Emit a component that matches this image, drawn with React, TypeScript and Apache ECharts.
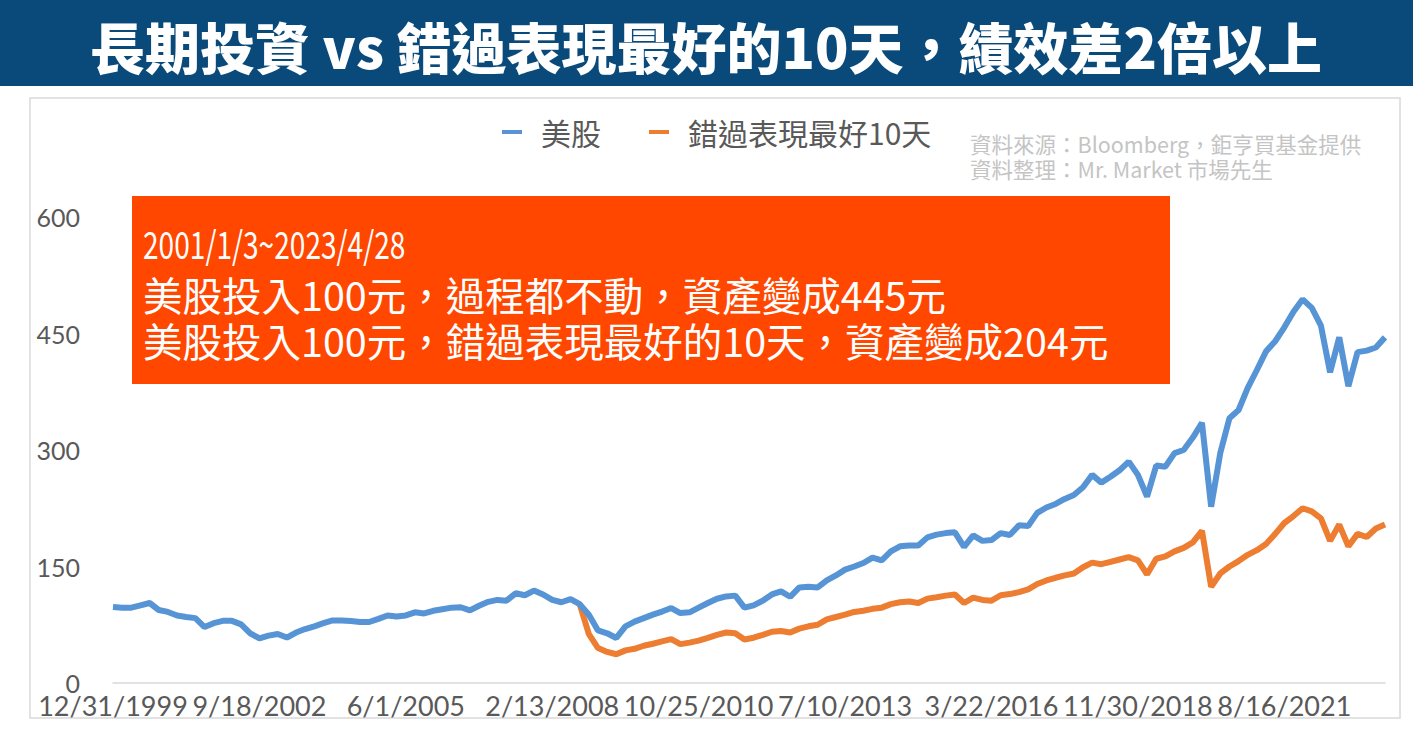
import React, { useEffect, useRef } from "react";
import * as echarts from "echarts";

// ---- Data ----
const seriesNames = ["美股", "錯過表現最好10天"];

// x axis: one point every 62 days starting 12/31/1999 (a label every 16 points = 992 days)
const startDate = "1999-12-31";
const stepDays = 62;
const labelEvery = 16;
const tickLabels = [
  "12/31/1999", "9/18/2002", "6/1/2005", "2/13/2008", "10/25/2010",
  "7/10/2013", "3/22/2016", "11/30/2018", "8/16/2021",
];

const usStocks = [
  97.8, 97, 97, 100, 103, 94, 91.5, 87, 85, 83.5,
  72, 77, 80, 80, 75.5, 64, 57.5, 61, 63, 58.5,
  65, 69.5, 73, 77, 80.5, 80.5, 79.7, 78.5, 78.5, 82.5,
  87, 85.5, 87, 91, 89.5, 93, 95, 97, 97.5, 93.5,
  99.5, 104.5, 107, 106, 115.5, 113, 119, 114, 107, 104,
  108, 101.5, 88, 67.7, 64, 58, 73, 79, 83.5, 88,
  92, 96.5, 90, 91, 97, 103, 108.5, 111.5, 112.5, 97,
  100, 106, 114, 118, 111, 123, 124, 123, 132, 138.5,
  146, 150, 154.5, 161.5, 158, 169.5, 176, 177, 177, 187.5,
  191, 193, 194, 175.2, 190, 183, 184, 193, 190.5, 203,
  202, 219, 226, 230.5, 237, 242, 252, 268, 258, 265.5,
  274, 285, 268, 240, 280, 278.5, 296, 300, 316, 335,
  227, 296, 341, 351.5, 380, 403, 427, 440, 458, 478,
  494, 483, 460, 400, 445, 382, 426, 428, 432, 445,
];

const missedBest10 = [
  null, null, null, null, null, null, null, null, null, null,
  null, null, null, null, null, null, null, null, null, null,
  null, null, null, null, null, null, null, null, null, null,
  null, null, null, null, null, null, null, null, null, null,
  null, null, null, null, null, null, null, null, null, null,
  null, 101.5, 63, 45, 40, 37, 42, 44, 48, 50.5,
  53.5, 56.5, 50, 52, 54.5, 58, 62, 65, 64, 56,
  58.3, 62, 66, 67, 65, 70, 73, 75, 82, 85,
  88, 91.5, 93, 95.5, 97, 101.5, 104, 105, 103, 108.6,
  110.5, 112.5, 114, 103, 110, 107, 106, 113, 114.5, 117,
  120.5, 127.5, 132, 135.5, 138.5, 141, 149, 155, 153, 156,
  159, 162, 158, 140, 160, 163, 169.5, 174, 181, 196,
  124, 141, 150, 157, 165, 171, 179, 192, 206, 215,
  225, 221, 212, 183, 204, 176, 192, 188, 199, 204,
];

const yTicks = { min: 0, max: 600, interval: 150 };

const titleText = "長期投資 vs 錯過表現最好的10天，績效差2倍以上";
const boxLines = [
  "2001/1/3~2023/4/28",
  "美股投入100元，過程都不動，資產變成445元",
  "美股投入100元，錯過表現最好的10天，資產變成204元",
];
const sourceLines = [
  "資料來源：Bloomberg，鉅亨買基金提供",
  "資料整理：Mr. Market 市場先生",
];

function buildCategories(): string[] {
  const [y, m, d] = startDate.split("-").map(Number);
  const base = Date.UTC(y, m - 1, d);
  return usStocks.map((_, i) => {
    const dt = new Date(base + i * stepDays * 86400000);
    return `${dt.getUTCMonth() + 1}/${dt.getUTCDate()}/${dt.getUTCFullYear()}`;
  });
}

const CJK = '"Noto Sans CJK TC", "Noto Sans CJK SC", sans-serif';

export default function App() {
  const ref = useRef<HTMLDivElement>(null);

  useEffect(() => {
    if (!ref.current) return;
    const chart = echarts.init(ref.current, null, { renderer: "svg" });
    const categories = buildCategories();

    chart.setOption({
      animation: false,
      backgroundColor: "#ffffff",
      grid: { left: 113, right: 28, top: 217, bottom: 57, containLabel: false },
      legend: {
        data: seriesNames,
        left: 497,
        top: 112,
        icon: "rect",
        itemWidth: 20,
        itemHeight: 4,
        itemGap: 48,
        textStyle: {
          color: "#595959",
          fontSize: 30,
          fontFamily: CJK,
          padding: [0, 0, 0, 14],
        },
      },
      xAxis: {
        type: "category",
        boundaryGap: false,
        data: categories,
        axisLine: { show: true, lineStyle: { color: "#d9d9d9", width: 1.5 } },
        axisTick: { show: false },
        splitLine: { show: false },
        axisLabel: {
          interval: labelEvery - 1,
          color: "#595959",
          fontSize: 27,
          fontFamily: "Lato, sans-serif",
          margin: 9,
          formatter: (v: string, idx: number) =>
            idx % labelEvery === 0 ? tickLabels[idx / labelEvery] ?? v : "",
        },
      },
      yAxis: {
        type: "value",
        min: yTicks.min,
        max: yTicks.max,
        interval: yTicks.interval,
        axisLine: { show: false },
        axisTick: { show: false },
        splitLine: { show: false },
        axisLabel: {
          color: "#595959",
          fontSize: 25,
          fontFamily: "Lato, sans-serif",
          margin: 33,
        },
      },
      series: [
        {
          name: seriesNames[0],
          type: "line",
          data: usStocks,
          showSymbol: false,
          z: 3,
          lineStyle: { color: "#5694d6", width: 6 },
          itemStyle: { color: "#5694d6" },
        },
        {
          name: seriesNames[1],
          type: "line",
          data: missedBest10,
          showSymbol: false,
          connectNulls: false,
          z: 2,
          lineStyle: { color: "#ed7d31", width: 6 },
          itemStyle: { color: "#ed7d31" },
        },
      ],
      graphic: [
        {
          type: "rect",
          z: -1,
          shape: { x: 30, y: 98, width: 1370, height: 620 },
          style: { fill: "none", stroke: "#d9d9d9", lineWidth: 1.5 },
        },
        {
          type: "rect",
          shape: { x: 0, y: 0, width: 1413, height: 86 },
          style: { fill: "#0a4a7a" },
        },
        {
          type: "text",
          x: 706,
          y: 45,
          style: {
            text: titleText,
            fill: "#ffffff",
            font: `900 55px ${CJK}`,
            align: "center",
            verticalAlign: "middle",
          },
        },
        {
          type: "rect",
          shape: { x: 132, y: 196, width: 1038, height: 188 },
          style: { fill: "#ff4700" },
        },
        ...boxLines.map((t, i) => ({
          type: "text",
          x: 143,
          y: [243, 293, 339][i],
          scaleX: i === 0 ? 0.74 : 1,
          style: {
            text: t,
            fill: "#ffffff",
            font: `${i === 0 ? 38 : 39.5}px ${CJK}`,
            align: "left",
            verticalAlign: "middle",
          },
        })),
        ...sourceLines.map((t, i) => ({
          type: "text",
          x: 970,
          y: [143, 168][i],
          style: {
            text: t,
            fill: "#c4c4c4",
            font: `21.5px ${CJK}`,
            align: "left",
            verticalAlign: "middle",
          },
        })),
      ],
    });

    return () => chart.dispose();
  }, []);

  return (
    <div
      ref={ref}
      style={{ position: "fixed", left: 0, top: 0, width: 1413, height: 740 }}
    />
  );
}
